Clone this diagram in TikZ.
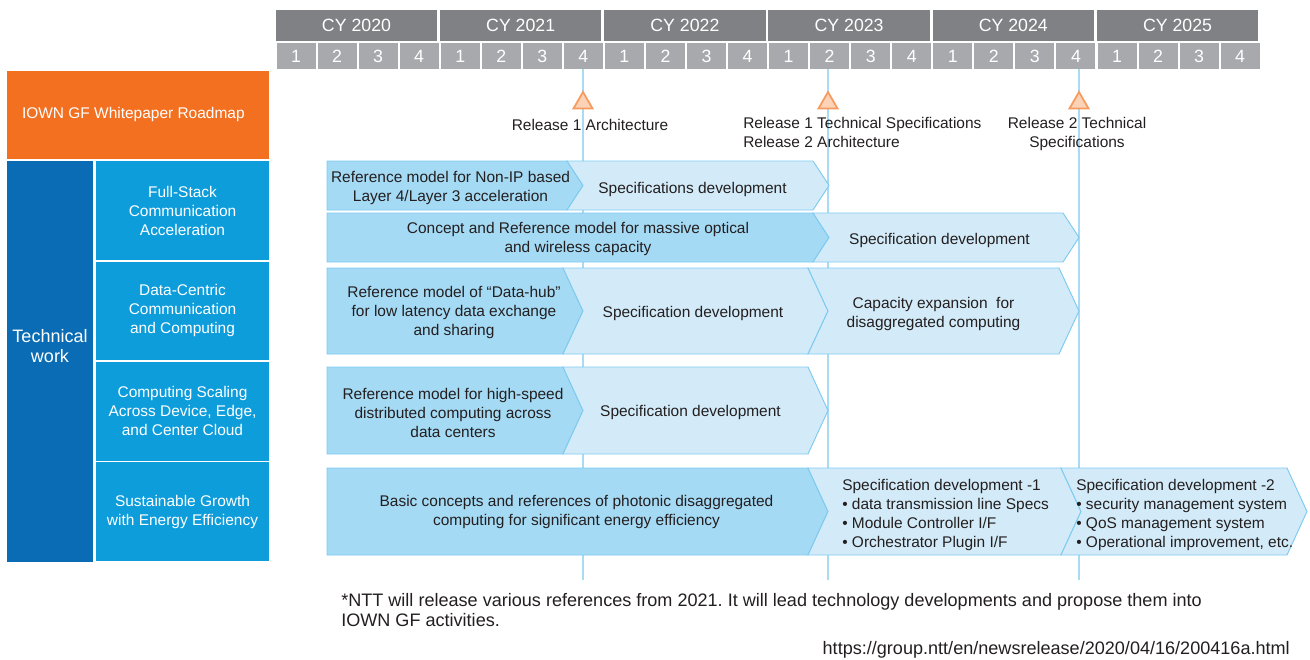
\documentclass[tikz,border=0pt]{standalone}
\usepackage{fontspec}
\setmainfont{Liberation Sans}
\usetikzlibrary{shapes.geometric}
\frenchspacing

\definecolor{cyhead}{HTML}{808185}
\definecolor{qhead}{HTML}{A7A9AC}
\definecolor{roadorange}{HTML}{F37021}
\definecolor{workblue}{HTML}{0A6CB4}
\definecolor{areablue}{HTML}{0D9DDB}
\definecolor{phaseA}{HTML}{A5DAF5}
\definecolor{phaseB}{HTML}{D3EBF8}
\definecolor{phaseline}{HTML}{7DCAF0}
\definecolor{mileline}{HTML}{A9DCF4}
\definecolor{mileorange}{HTML}{F69A5E}
\definecolor{milefill}{HTML}{FCD3B6}
\definecolor{txt}{HTML}{231F20}

% chevrons: #1 left, #2 tip, #3 top, #4 bottom, #5 fill
\def\tipd{16}
\newcommand\phasefirst[5]{%
  \filldraw[phase,fill=#5] (#1,#3) -- ({#2-\tipd},#3) -- (#2,{(#3+#4)/2})
    -- ({#2-\tipd},#4) -- (#1,#4) -- cycle;}
\newcommand\phasenext[5]{%
  \filldraw[phase,fill=#5] (#1,#3) -- ({#2-\tipd},#3) -- (#2,{(#3+#4)/2})
    -- ({#2-\tipd},#4) -- (#1,#4) -- ({#1+\tipd},{(#3+#4)/2}) -- cycle;}

\begin{document}
\begin{tikzpicture}
      [%%%%%%%%%%%%%%%%%%%%%%%%%%%%%%
          x=0.75pt, y=-0.75pt,
          font=\fontsize{11.6}{14.25}\selectfont,
          yearbox/.style={rectangle, fill=cyhead, text=white, inner sep=0,
              minimum width=121.1pt, minimum height=23.6pt,
              font=\fontsize{13.3}{16}\selectfont},
          qbox/.style={rectangle, fill=qhead, text=white, inner sep=0,
              minimum width=29.25pt, minimum height=19.5pt,
              font=\fontsize{13.3}{16}\selectfont},
          roadbox/.style={rectangle, fill=roadorange, text=white, inner sep=0,
              minimum width=196.5pt, minimum height=66pt},
          workbox/.style={rectangle, fill=workblue, inner sep=0,
              minimum width=64.5pt, minimum height=300.75pt},
          areabox/.style={rectangle, fill=areablue, text=white, inner sep=0,
              align=center, minimum width=129.75pt, minimum height=73.9pt},
          phase/.style={draw=phaseline, line width=0.7pt, line join=miter},
          phasetext/.style={text=txt, align=center, inner sep=0, yshift=-1.2pt},
          mline/.style={draw=mileline, line width=1.2pt},
          milestone/.style={regular polygon, regular polygon sides=3,
              draw=mileorange, fill=milefill, line width=1.3pt,
              inner sep=0, minimum size=16.5pt},
          note/.style={text=txt, align=left, inner sep=0}
      ]%%%%%%%%%%%%%%%%%%%%%%%%%%%%%%

  \useasboundingbox (0,0) rectangle (1310,660);

  % calendar header
  \foreach \yr [count=\i from 0] in {2020,...,2025}
      \node[yearbox] (cy\yr) at ({275.5+164.2*\i+81}, 25.5) {CY \yr};

  \foreach \q in {0,...,23}{
      \pgfmathtruncatemacro\qn{mod(\q,4)+1}
      \node[qbox] (q\q) at ({275.5+41.05*\q+20.5}, 56.5) {\qn};
  }

  % left column
  \node[roadbox] (road) at (138,115) {IOWN GF Whitepaper Roadmap\hspace*{7pt}};
  \node[workbox] (work) at (50,361.5) {};
  \node[text=white, align=center, inner sep=0,
        font=\fontsize{13.5}{15}\selectfont] (worklbl) at (50,346) {Technical\\work};

  \foreach \t [count=\k from 0] in {{Full-Stack\\Communication\\Acceleration},
          {Data-Centric\\Communication\\and Computing},
          {Computing Scaling\\Across Device, Edge,\\and Center Cloud},
          {Sustainable Growth\\with Energy Efficiency}}
      \node[areabox] (area\k) at (182.5, {210.5+100.4*\k}) {\t};

  % release lines and markers
  \foreach \n/\mx in {1/583, 2/828, 3/1079}{
      \coordinate (ms\n top) at (\mx,69.5);
      \coordinate (ms\n end) at (\mx,580);
      \draw[mline] (ms\n top) -- (ms\n end);
      \node[milestone] (ms\n) at (\mx,103) {};
  }

  \node[text=txt, inner sep=0] (rel1) at (590,125) {Release 1 Architecture};
  \node[note, anchor=west] (rel2) at (743,132.5)
      {Release 1 Technical Specifications\\Release 2 Architecture};
  \node[text=txt, align=center, inner sep=0] (rel3) at (1077,134.5)
      {Release 2 Technical\\Specifications};

  % work item chevrons
  \phasefirst{327}{583}{161}{210}{phaseA}
  \phasenext{567}{829}{161}{210}{phaseB}
  \phasefirst{327}{829}{213}{262}{phaseA}
  \phasenext{813}{1079}{213}{262}{phaseB}

  \def\tipd{20}
  \phasefirst{327}{583}{268}{354}{phaseA}
  \phasenext{563}{828}{268}{354}{phaseB}
  \phasenext{808}{1079}{268}{354}{phaseB}
  \phasefirst{327}{583}{367}{454}{phaseA}
  \phasenext{563}{828}{367}{454}{phaseB}
  \phasefirst{327}{828}{468}{555}{phaseA}
  \phasenext{808}{1081}{468}{555}{phaseB}
  \phasenext{1061}{1307}{468}{555}{phaseB}

  \node[phasetext] (r1a) at (450.5,186)
      {Reference model for Non-IP based\\Layer 4/Layer 3 acceleration};
  \node[phasetext] (r1b) at (692.5,188) {Specifications development};
  \node[phasetext] (r2a) at (578,237.5)
      {Concept and Reference model for massive optical\\and wireless capacity};
  \node[phasetext] (r2b) at (939.5,239) {Specification development};
  \node[phasetext] (r3a) at (454,311)
      {Reference model of “Data-hub”\\for low latency data exchange\\and sharing};
  \node[phasetext] (r3b) at (693,312) {Specification development};
  \node[phasetext] (r3c) at (933.5,312)
      {Capacity expansion\ \ for\\disaggregated computing};
  \node[phasetext] (r4a) at (453,411.5)
      {Reference model for high-speed\\distributed computing across\\data centers};
  \node[phasetext] (r4b) at (690.5,411) {Specification development};
  \node[phasetext] (r5a) at (576.5,510)
      {Basic concepts and references of photonic disaggregated\\computing for significant energy efficiency};
  \node[note, anchor=west, yshift=-1.2pt] (r5b) at (842,513)
      {Specification development -1\\• data transmission line Specs\\• Module Controller I/F\\• Orchestrator Plugin I/F};
  \node[note, anchor=west, yshift=-1.2pt] (r5c) at (1076,513)
      {Specification development -2\\• security management system\\• QoS management system\\• Operational improvement, etc.};

  % footnote and source
  \node[note, anchor=west, font=\fontsize{13.55}{15.2}\selectfont] (foot) at (341,610)
      {*NTT will release various references from 2021. It will lead technology developments and propose them into\\IOWN GF activities.};
  \node[text=txt, inner sep=0, anchor=east, font=\fontsize{13.55}{15.2}\selectfont]
      (src) at (1290,650) {https://group.ntt/en/newsrelease/2020/04/16/200416a.html};

\end{tikzpicture}
\end{document}
